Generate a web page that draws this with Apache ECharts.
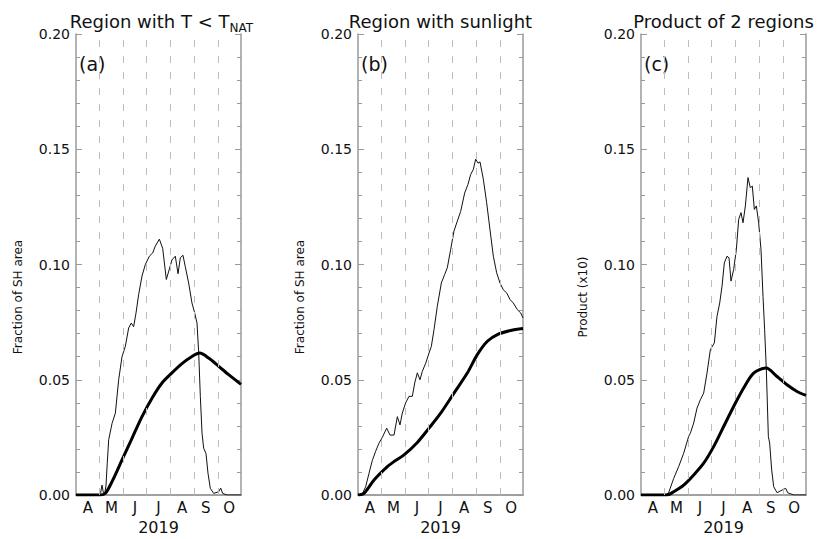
<!DOCTYPE html>
<html>
<head>
<meta charset="utf-8">
<script src="https://cdn.jsdelivr.net/npm/echarts@6/dist/echarts.min.js"></script>
<style>html,body{margin:0;padding:0;background:#fff}#chart{width:821px;height:539px}</style>
</head>
<body>
<div id="chart"></div>
<script>
// ---- data (day of year 2019, fraction) ----
const monthLabels = ['A','M','J','J','A','S','O'];
const monthStarts = [121,152,182,213,244,274];
const dayMin = 91, dayMax = 304;
const yearLabel = '2019';

const aThinDays = [91,120.3,122.8,124.6,126.3,128,129.7,131.4,133.2,137.5,141.8,146.1,150.4,154.7,159,162.4,165.4,168.5,171.9,176.2,180.5,185.7,190,193.4,198.6,202.9,207.6,211.5,214.9,219.2,222.7,225.7,229.1,232.1,236.4,240.7,244.2,247.2,249.4,251.5,253.7,255.8,258.8,261.4,264.4,268.7,275.2,277.8,280.3,285.9,304];
const aThinVals = [0,0,0.001,0.0043,0.001,0.0005,0.004,0.014,0.024,0.031,0.0355,0.05,0.06,0.0645,0.0725,0.0746,0.073,0.079,0.087,0.095,0.1,0.1036,0.105,0.108,0.111,0.107,0.0935,0.098,0.102,0.1036,0.096,0.103,0.104,0.099,0.092,0.0833,0.079,0.0746,0.0616,0.0428,0.0268,0.0203,0.018,0.0094,0.0029,0.0007,0.0014,0.003,0.0007,0,0];
const aThickDays = [91,122.4,128.9,137.5,150.4,163.3,176.2,189.1,202,214.9,227.8,240.7,250.6,262.3,275.2,288.1,304];
const aThickVals = [0,0,0.0007,0.0058,0.0152,0.0246,0.034,0.042,0.0486,0.053,0.057,0.0601,0.0616,0.0594,0.0558,0.0522,0.048];

const bThinDays = [91,96.6,100.9,105.2,109.5,113.8,118.1,122.4,128,132.3,137.5,141.8,145.2,148.2,152.5,156.8,161.1,164.2,167.6,171,174,178.4,182.7,185.7,189.1,193.4,198.6,202.9,206.3,210.6,214.9,219.2,223.5,228.7,233,236.4,239.9,242.9,245.9,248.5,252.8,257.1,261.4,265.7,270,274.3,278.6,282.9,287.2,291.5,296.7,301,304];
const bThinVals = [0,0.0005,0.0036,0.0094,0.015,0.019,0.0225,0.025,0.029,0.026,0.026,0.034,0.0304,0.0355,0.04,0.0428,0.0428,0.0486,0.053,0.05,0.0536,0.0572,0.0616,0.0645,0.0717,0.0819,0.092,0.0957,0.0986,0.1065,0.1145,0.1188,0.123,0.131,0.1348,0.139,0.1413,0.1457,0.144,0.1445,0.137,0.1268,0.115,0.1036,0.0964,0.092,0.089,0.0877,0.0848,0.0833,0.0804,0.079,0.0768];
const bThickDays = [91,98.7,111.7,128.9,137.5,150.4,167.6,182.7,197.7,214.9,232.1,245,258,270.9,288.1,304];
const bThickVals = [0,0.0007,0.0065,0.0123,0.0145,0.0174,0.0228,0.029,0.0355,0.0442,0.0529,0.0609,0.0667,0.0696,0.0714,0.0722];

const cThinDays = [91,122.4,126.7,133.2,139.6,146.1,152.5,154.7,159,163.3,167.6,171.9,176.2,180.5,185.7,189.1,192.6,195.6,198.6,202,204.6,207.2,210.6,214.1,217.1,220.1,222.7,225.7,229.1,232.1,234.7,237.3,239.9,242.9,245.9,248.5,250.6,252.8,255.4,257.1,259.7,262.3,266.6,275.2,277.8,280.3,288.1,304];
const cThinVals = [0,0,0.001,0.0072,0.0123,0.0181,0.0254,0.0268,0.0312,0.0377,0.0413,0.0442,0.0529,0.063,0.066,0.0775,0.0833,0.0906,0.1007,0.1036,0.1029,0.0928,0.0978,0.1065,0.1196,0.1225,0.1181,0.1254,0.1377,0.1333,0.134,0.1239,0.1254,0.1181,0.1065,0.0862,0.0717,0.0543,0.0254,0.0225,0.0109,0.0036,0.001,0.0025,0.0029,0.001,0,0];
const cThickDays = [91,124.6,133.2,146.1,159,171.9,184.8,197.7,210.6,223.5,236.4,252.4,266.6,279.5,292.4,304];
const cThickVals = [0,0,0.0014,0.0043,0.0087,0.0138,0.021,0.0297,0.0384,0.0464,0.0529,0.0551,0.0514,0.0478,0.0449,0.0432];

const yMin = 0, yMax = 0.20, yInterval = 0.05;

// ---- layout / styles ----
const FONT = 'DejaVu Sans';
const AXIS_COLOR = '#9a9a9a';
const panels = [
  {tag:'(a)', titleMain:'Region with T < T', titleSub:'NAT', yName:'Fraction of SH area', thinD:aThinDays, thinV:aThinVals, thickD:aThickDays, thickV:aThickVals, left:76, nameX:18},
  {tag:'(b)', titleMain:'Region with sunlight', titleSub:'', yName:'Fraction of SH area', thinD:bThinDays, thinV:bThinVals, thickD:bThickDays, thickV:bThickVals, left:358, nameX:300},
  {tag:'(c)', titleMain:'Product of 2 regions', titleSub:'', yName:'Product (x10)', thinD:cThinDays, thinV:cThinVals, thickD:cThickDays, thickV:cThickVals, left:641, nameX:583}
];
const GW = 165, GT = 34, GH = 461;

const zip = (d, v) => d.map((x, i) => [x, v[i]]);
const axisLine = {show:true, lineStyle:{color:AXIS_COLOR, width:1.5}};

const grid = [], xAxis = [], yAxis = [], series = [], graphic = [];
panels.forEach((p, i) => {
  grid.push({left:p.left, top:GT, width:GW, height:GH, containLabel:false, outerBoundsMode:'none'});
  const xb = xAxis.length;
  xAxis.push({type:'value', gridIndex:i, position:'bottom', min:dayMin, max:dayMax,
    axisLine, axisTick:{show:false}, axisLabel:{show:false}, splitLine:{show:false}});
  xAxis.push({type:'value', gridIndex:i, position:'top', min:dayMin, max:dayMax,
    axisLine, axisTick:{show:false}, axisLabel:{show:false}, splitLine:{show:false}});
  xAxis.push({type:'category', gridIndex:i, position:'bottom', data:monthLabels, boundaryGap:true,
    axisLine:{show:false}, axisTick:{show:false}, splitLine:{show:false},
    axisLabel:{fontFamily:FONT, fontSize:15, lineHeight:15, color:'#111', margin:5, interval:0},
    name:yearLabel, nameLocation:'middle', nameGap:24, nameMoveOverlap:false,
    nameTextStyle:{fontFamily:FONT, fontSize:16, color:'#111', lineHeight:16}});
  const yb = yAxis.length;
  const yCommon = {type:'value', gridIndex:i, min:yMin, max:yMax, interval:yInterval,
    axisLine, splitLine:{show:false},
    axisTick:{show:true, inside:true, length:6, lineStyle:{color:AXIS_COLOR}},
    minorTick:{show:true, splitNumber:5, length:4, lineStyle:{color:AXIS_COLOR}}};
  yAxis.push(Object.assign({}, yCommon, {position:'left',
    axisLabel:{fontFamily:FONT, fontSize:14, color:'#111', margin:6, formatter:v => v.toFixed(2)}}));
  yAxis.push(Object.assign({}, yCommon, {position:'right', axisLabel:{show:false}}));

  series.push({type:'line', xAxisIndex:xb, yAxisIndex:yb, data:zip(p.thinD, p.thinV),
    showSymbol:false, symbol:'none', z:3, lineStyle:{color:'#111', width:1}, animation:false,
    markLine:{silent:true, symbol:'none', label:{show:false}, animation:false,
      lineStyle:{color:'#bdbdbd', width:1, type:[7,9]},
      data: monthStarts.map(m => ({xAxis:m}))}});
  series.push({type:'line', xAxisIndex:xb, yAxisIndex:yb, data:zip(p.thickD, p.thickV),
    showSymbol:false, symbol:'none', z:4, smooth:0.3,
    lineStyle:{color:'#000', width:3}, animation:false});

  const cx = p.left + GW / 2;
  if (p.titleSub) {
    graphic.push({type:'text', x:cx + 71, y:21, style:{text:p.titleMain, fontFamily:FONT, fontSize:18, fill:'#111', align:'right', textAlign:'right', verticalAlign:'middle', textVerticalAlign:'middle'}});
    graphic.push({type:'text', x:cx + 71, y:28, style:{text:p.titleSub, fontFamily:FONT, fontSize:12, fill:'#111', align:'left', textAlign:'left', verticalAlign:'middle', textVerticalAlign:'middle'}});
  } else {
    graphic.push({type:'text', x:cx, y:21, style:{text:p.titleMain, fontFamily:FONT, fontSize:18, fill:'#111', align:'center', textAlign:'center', verticalAlign:'middle', textVerticalAlign:'middle'}});
  }
  graphic.push({type:'text', x:p.left + 3, y:64, style:{text:p.tag, fontFamily:FONT, fontSize:19, fill:'#111', align:'left', textAlign:'left', verticalAlign:'middle', textVerticalAlign:'middle'}});
  graphic.push({type:'text', x:p.nameX, y:297, rotation:Math.PI/2, style:{text:p.yName, fontFamily:FONT, fontSize:12, fill:'#111', align:'center', textAlign:'center', verticalAlign:'middle', textVerticalAlign:'middle'}});
});

const chart = echarts.init(document.getElementById('chart'), null, {renderer:'svg'});
chart.setOption({animation:false, backgroundColor:'#fff', grid, xAxis, yAxis, series, graphic});
</script>
</body>
</html>
